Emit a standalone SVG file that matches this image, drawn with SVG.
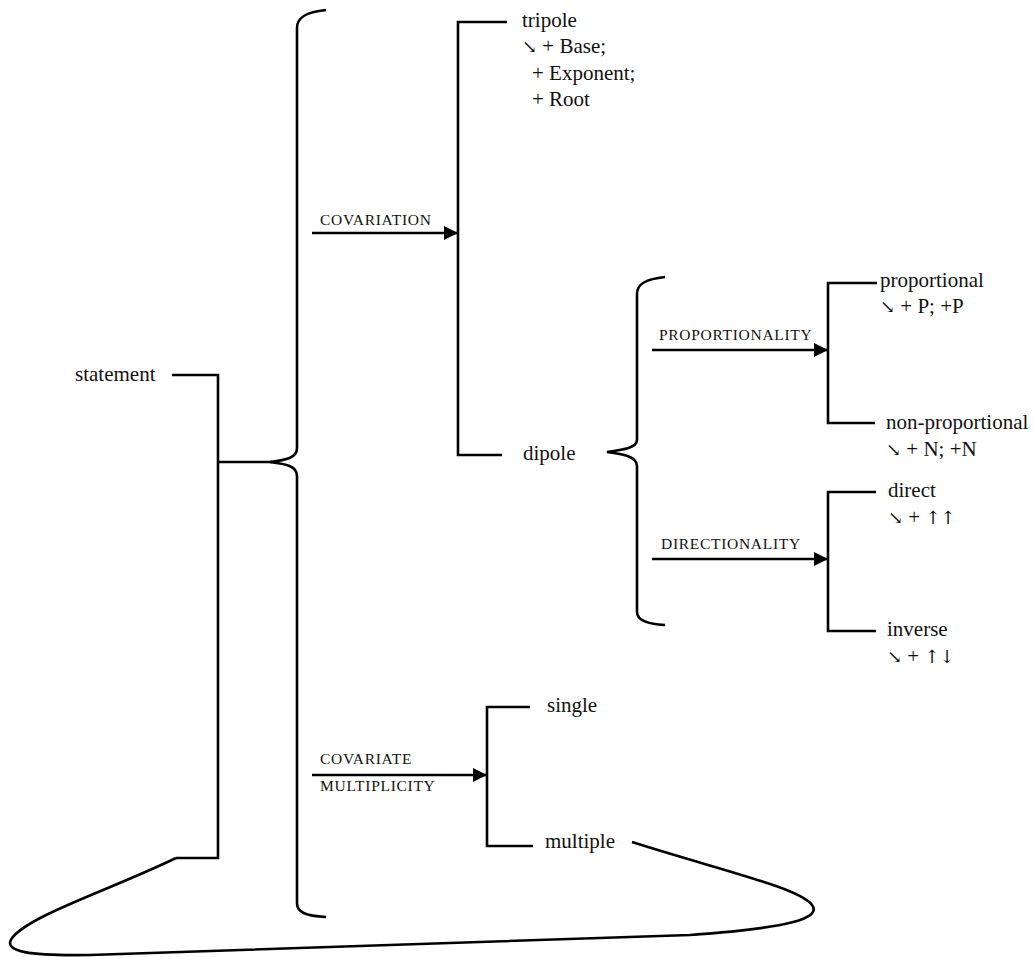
<svg xmlns="http://www.w3.org/2000/svg" width="1034" height="957" viewBox="0 0 1034 957">
<defs>
<marker id="ah" viewBox="0 0 10 10" refX="10" refY="5" markerWidth="5.5" markerHeight="5.5" orient="auto" markerUnits="strokeWidth">
<path d="M0,0 L10,5 L0,10 z" fill="#000"/>
</marker>
<style>
.ln{fill:none;stroke:#000;stroke-width:2.6;stroke-linejoin:miter}
.t{font-family:"Liberation Serif","Times New Roman",serif;font-size:21px;fill:#111}
.ar{font-family:"DejaVu Serif","DejaVu Sans",serif;font-size:18px;fill:#111}
.lb{font-family:"Liberation Serif","Times New Roman",serif;font-size:15.5px;letter-spacing:0.7px;fill:#111}
</style>
</defs>
<rect width="1034" height="957" fill="#fff"/>
<g id="connectors">
<path class="ln" d="M172 375 H218 V858 H176"/>
<path class="ln" d="M218 462 H272"/>
<path class="ln" d="M326 10 C305 12 297 18 297 28 V448 C297 458 286 460 270 462 C286 464 297 466 297 476 V903 C297 912 305 916 326 917"/>
<path class="ln" d="M312 233 H458" marker-end="url(#ah)"/>
<path class="ln" d="M507 22 H458 V455 H502"/>
<path class="ln" d="M665 277 C646 279 637 284 637 294 V440 C637 448 622 450 607 452 C622 454 637 456 637 466 V612 C637 620 646 624 665 625"/>
<path class="ln" d="M652 350 H828" marker-end="url(#ah)"/>
<path class="ln" d="M877 283 H828 V423 H875"/>
<path class="ln" d="M652 559 H828" marker-end="url(#ah)"/>
<path class="ln" d="M876 492 H828 V631 H876"/>
<path class="ln" d="M312 775 H487" marker-end="url(#ah)"/>
<path class="ln" d="M530 707 H487 V846 H533"/>
<path class="ln" d="M176 858 C110 890 30 915 12 938 C2 952 30 956 90 955 L690 935 C790 928 822 918 812 905 C800 888 720 870 632 842"/>
</g>
<g id="statement"><text class="t" x="75" y="381">statement</text></g>
<g id="covariation-label"><text class="lb" x="320" y="225">COVARIATION</text></g>
<g id="tripole">
<text class="t" x="522" y="27">tripole</text>
<text class="t" x="522" y="53"><tspan class="ar">↘</tspan> + Base;</text>
<text class="t" x="532" y="80">+ Exponent;</text>
<text class="t" x="532" y="106">+ Root</text>
</g>
<g id="dipole"><text class="t" x="523" y="460">dipole</text></g>
<g id="proportionality-label"><text class="lb" x="659" y="340">PROPORTIONALITY</text></g>
<g id="proportional">
<text class="t" x="880" y="287">proportional</text>
<text class="t" x="880" y="313"><tspan class="ar">↘</tspan> + P; +P</text>
</g>
<g id="non-proportional">
<text class="t" x="886" y="429">non-proportional</text>
<text class="t" x="886" y="456"><tspan class="ar">↘</tspan> + N; +N</text>
</g>
<g id="directionality-label"><text class="lb" x="661" y="549">DIRECTIONALITY</text></g>
<g id="direct">
<text class="t" x="888" y="497">direct</text>
<text class="t" x="888" y="524"><tspan class="ar">↘</tspan> + <tspan class="ar">↑↑</tspan></text>
</g>
<g id="inverse">
<text class="t" x="887" y="636">inverse</text>
<text class="t" x="887" y="663"><tspan class="ar">↘</tspan> + <tspan class="ar">↑↓</tspan></text>
</g>
<g id="covariate-multiplicity-label">
<text class="lb" x="320" y="764">COVARIATE</text>
<text class="lb" x="320" y="791">MULTIPLICITY</text>
</g>
<g id="single"><text class="t" x="547" y="712">single</text></g>
<g id="multiple"><text class="t" x="545" y="848">multiple</text></g>
</svg>
